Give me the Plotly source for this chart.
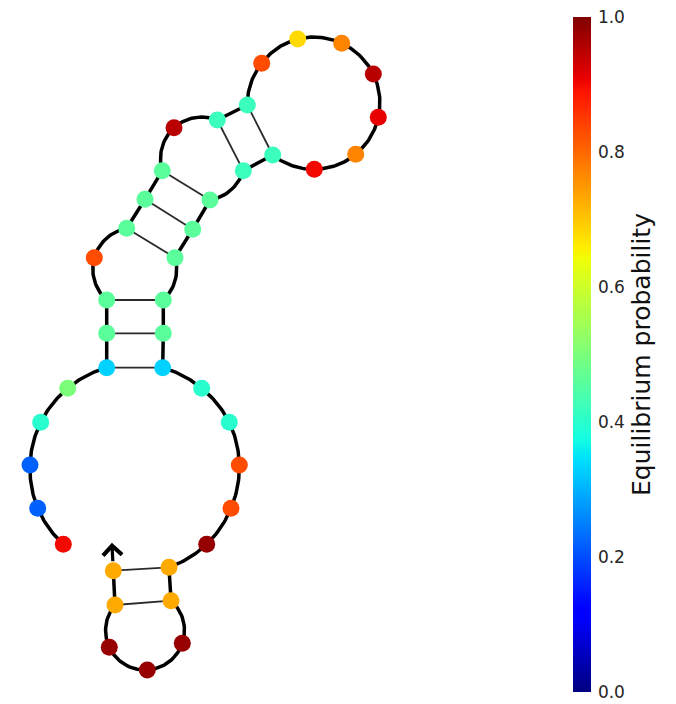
import numpy as np
import plotly.graph_objects as go

# ---- data -------------------------------------------------------------
structure = "....." + "(((" + "." + "(((" + "." + "((" + "......." + "))" + ")))" + ")))" + "....." + "((" + "..." + "))"

# nucleotide layout positions (drawing units, y grows downward)
nt_x = [63.3, 37.7, 30.0, 40.7, 67.7, 106.7, 106.7, 106.7, 94.3, 126.7,
        145.0, 162.3, 174.0, 217.3, 247.3, 261.7, 297.7, 341.7, 373.3, 378.3,
        355.7, 314.3, 272.7, 243.3, 210.0, 192.7, 175.0, 163.3, 163.3, 162.7,
        201.7, 229.3, 239.3, 231.0, 206.7, 169.0, 171.0, 182.3, 147.3, 109.3,
        115.0, 113.3]
nt_y = [544.3, 508.3, 465.0, 422.3, 388.3, 367.7, 333.3, 300.0, 257.7, 228.3,
        199.3, 170.7, 127.7, 120.0, 105.0, 63.3, 39.0, 43.3, 74.0, 117.3,
        154.3, 169.3, 155.0, 170.7, 200.0, 229.3, 257.7, 300.0, 333.3, 367.7,
        388.3, 422.3, 465.0, 508.3, 544.3, 567.3, 600.7, 643.3, 670.0, 647.3,
        605.0, 570.7]
# equilibrium probability of each nucleotide
prob = [0.90, 0.22, 0.22, 0.40, 0.50, 0.33, 0.46, 0.46, 0.83, 0.46,
        0.46, 0.46, 0.95, 0.42, 0.42, 0.83, 0.68, 0.77, 0.95, 0.91,
        0.77, 0.90, 0.42, 0.42, 0.46, 0.46, 0.46, 0.46, 0.46, 0.33,
        0.40, 0.40, 0.83, 0.83, 0.98, 0.73, 0.73, 0.98, 0.98, 0.98,
        0.73, 0.73]

cbar_ticks = [0.0, 0.2, 0.4, 0.6, 0.8, 1.0]
cbar_labels = ["0.0", "0.2", "0.4", "0.6", "0.8", "1.0"]
cbar_title = "Equilibrium probability"

# ---- helpers ------------------------------------------------------------
n = len(structure)
P = np.column_stack([nt_x, nt_y])

pt = [-1] * n
stack = []
for i, c in enumerate(structure):
    if c == "(":
        stack.append(i)
    elif c == ")":
        j = stack.pop()
        pt[i], pt[j] = j, i

loops = []
for i in range(n):
    j = pt[i]
    if j > i:
        nts = [i]
        edges = [(i, i + 1)]
        k = i + 1
        while k < j:
            if pt[k] > k:
                nts += [k, pt[k]]
                k = pt[k]
            else:
                nts.append(k)
            edges.append((k, k + 1))
            k += 1
        nts.append(j)
        is_stack = (pt[i + 1] == j - 1)
        loops.append((nts, edges, is_stack))
# exterior loop
nts, edges = [], []
k = 0
while k < n:
    if pt[k] > k:
        nts += [k, pt[k]]
        k = pt[k]
    else:
        nts.append(k)
    if k + 1 < n:
        edges.append((k, k + 1))
    k += 1
loops.append((nts, edges, False))


def fit_circle(pts):
    x, y = pts[:, 0], pts[:, 1]
    A = np.column_stack([x, y, np.ones_like(x)])
    b = x ** 2 + y ** 2
    c = np.linalg.lstsq(A, b, rcond=None)[0]
    return c[0] / 2, c[1] / 2


bx, by = [], []
for nts, edges, is_stack in loops:
    if is_stack:
        for a, b in edges:
            bx += [P[a, 0], P[b, 0], None]
            by += [P[a, 1], P[b, 1], None]
        continue
    cx, cy = fit_circle(P[sorted(set(nts))])
    for a, b in edges:
        a0 = np.arctan2(P[a, 1] - cy, P[a, 0] - cx)
        a1 = np.arctan2(P[b, 1] - cy, P[b, 0] - cx)
        r0 = np.hypot(P[a, 1] - cy, P[a, 0] - cx)
        r1 = np.hypot(P[b, 1] - cy, P[b, 0] - cx)
        d = (a1 - a0 + np.pi) % (2 * np.pi) - np.pi
        t = np.linspace(0, 1, 24)
        ang = a0 + d * t
        rr = r0 + (r1 - r0) * t
        bx += list(cx + rr * np.cos(ang)) + [None]
        by += list(cy + rr * np.sin(ang)) + [None]

px_, py_ = [], []
for i in range(n):
    if pt[i] > i:
        px_ += [P[i, 0], P[pt[i], 0], None]
        py_ += [P[i, 1], P[pt[i], 1], None]


# matplotlib "jet" colorscale
def jet(v):
    r = np.interp(v, [0, 0.35, 0.66, 0.89, 1], [0, 0, 1, 1, 0.5])
    g = np.interp(v, [0, 0.125, 0.375, 0.64, 0.91, 1], [0, 0, 1, 1, 0, 0])
    bl = np.interp(v, [0, 0.11, 0.34, 0.65, 1], [0.5, 1, 1, 0, 0])
    return "rgb(%d,%d,%d)" % (round(r * 255), round(g * 255), round(bl * 255))


jet_scale = [[float(v), jet(v)] for v in np.linspace(0, 1, 101)]

# page offset of the figure (browser body margin) -> figure geometry
OFF = 8
W, H = 676 - OFF, 704 - OFF
CB_TOP, CB_BOT = 17, 692

fig = go.Figure()
fig.add_trace(go.Scatter(x=bx, y=by, mode="lines",
                         line=dict(color="black", width=3.5),
                         hoverinfo="skip", showlegend=False))
fig.add_trace(go.Scatter(x=px_, y=py_, mode="lines",
                         line=dict(color="#2a2a2a", width=1.8),
                         hoverinfo="skip", showlegend=False))
fig.add_trace(go.Scatter(
    x=nt_x, y=nt_y, mode="markers", showlegend=False,
    marker=dict(size=17, color=prob, colorscale=jet_scale, cmin=0, cmax=1,
                line=dict(width=0),
                colorbar=dict(
                    x=(573 - OFF) / W, xanchor="left", xpad=0, ypad=0,
                    y=1 - ((CB_TOP + CB_BOT) / 2 - OFF) / H, yanchor="middle",
                    len=(CB_BOT - CB_TOP) / H, lenmode="fraction",
                    thickness=18, thicknessmode="pixels",
                    outlinewidth=0,
                    tickmode="array", tickvals=cbar_ticks, ticktext=cbar_labels,
                    ticklabeloverflow="allow",
                    ticks="outside", ticklen=4, tickcolor="rgba(0,0,0,0)",
                    tickfont=dict(family="DejaVu Sans", size=17, color="#262626"),
                    title=dict(text=cbar_title, side="right",
                               font=dict(family="DejaVu Sans", size=25, color="#111")),
                ))))

# 3' end arrow continuing the last helix direction
last, prev = n - 1, n - 2
u = P[last] - P[prev]
u = u / np.linalg.norm(u)
tip = P[last] + u * 28
fig.add_annotation(x=tip[0], y=tip[1], ax=P[last, 0], ay=P[last, 1],
                   xref="x", yref="y", axref="x", ayref="y", text="",
                   showarrow=True, arrowhead=4, arrowsize=1.15, arrowwidth=3.2,
                   arrowcolor="black", standoff=0, startstandoff=8)

fig.update_layout(
    width=W, height=H,
    margin=dict(l=0, r=0, t=0, b=0),
    paper_bgcolor="white", plot_bgcolor="white",
    xaxis=dict(range=[OFF, 676], visible=False, fixedrange=True),
    yaxis=dict(range=[704, OFF], visible=False, fixedrange=True),
)
fig.write_html("out.html")
